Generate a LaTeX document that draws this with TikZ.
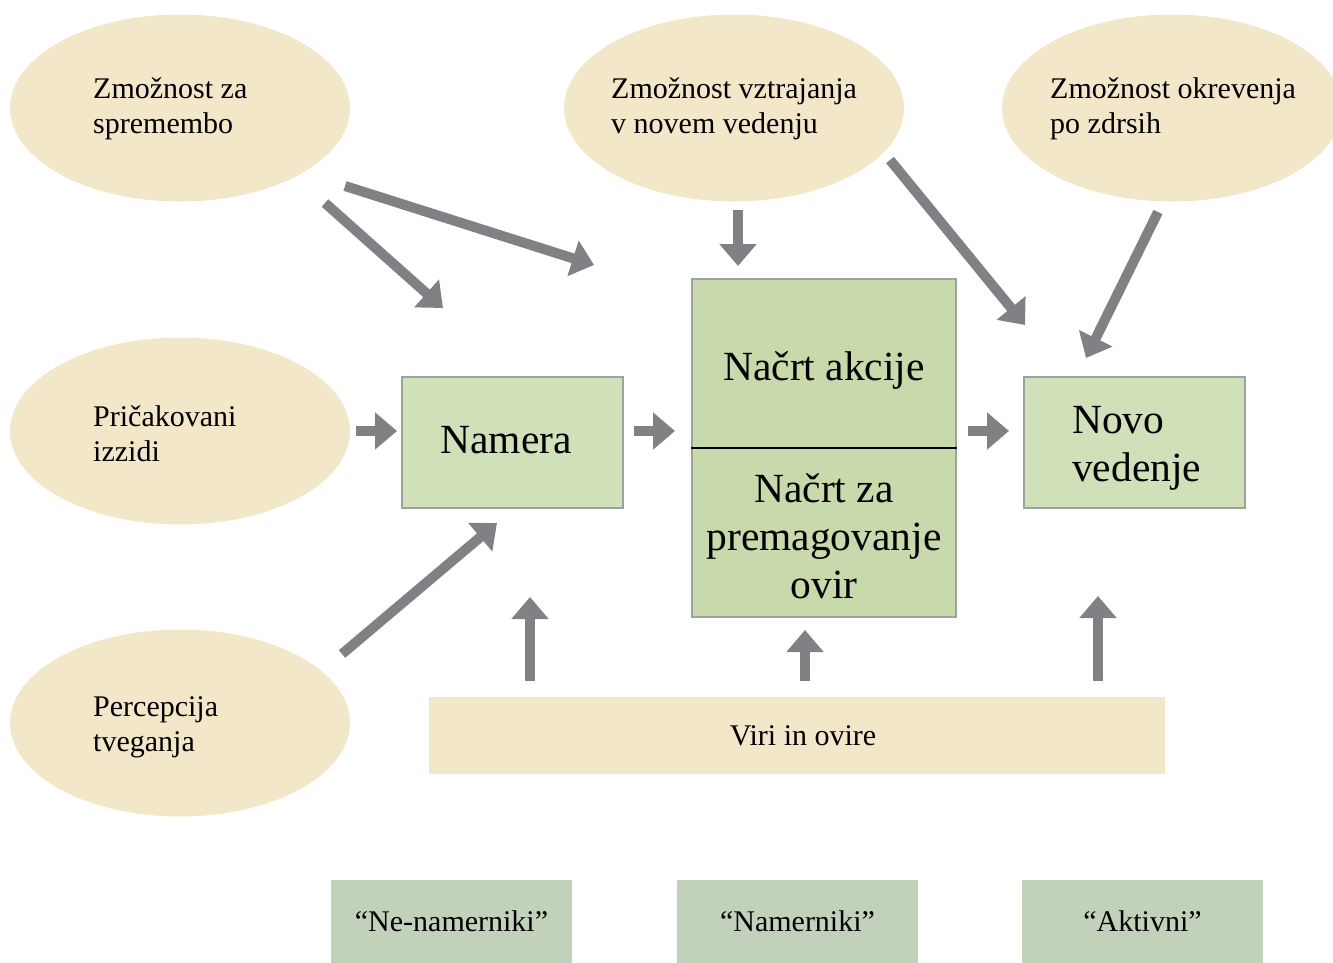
\documentclass[tikz,border=0pt]{standalone}
\usepackage{fontspec}
\setmainfont{Liberation Serif}
\usetikzlibrary{shapes.geometric,arrows.meta}
\definecolor{sand}{HTML}{F3E7C9}
\definecolor{leaf}{HTML}{D0E1B9}
\definecolor{leafdark}{HTML}{C8DAAB}
\definecolor{sage}{HTML}{C1D1BA}
\definecolor{edgegray}{HTML}{A0A0A0}
\definecolor{arrowgray}{HTML}{808184}
\begin{document}
\begin{tikzpicture}[x=1pt,y=-1pt,
  oval/.style={ellipse,fill=sand,draw=none,minimum width=340pt,minimum height=187pt,inner sep=0pt},
  ovaltext/.style={anchor=west,align=left,font=\fontsize{30}{35}\selectfont,inner sep=0pt},
  stage/.style={rectangle,draw=edgegray,line width=2.5pt,inner sep=0pt},
  bigtext/.style={align=center,font=\fontsize{41.5}{48}\selectfont,inner sep=0pt},
  group/.style={rectangle,fill=sage,draw=none,minimum width=241pt,minimum height=83pt,
    font=\fontsize{30}{35}\selectfont},
  flow/.style={draw=arrowgray,line width=10pt,-{Triangle[length=22pt,width=36pt]}}
]
\useasboundingbox (0,0) rectangle (1333,963);

% influencing factors
\node[oval] (spr) at (180,108) {};
\node[ovaltext] (sprt) at (93,109) {Zmožnost za\\spremembo};
\node[oval] (vzt) at (734,108) {};
\node[ovaltext] (vztt) at (611,109) {Zmožnost vztrajanja\\v novem vedenju};
\node[oval] (okr) at (1172,108) {};
\node[ovaltext] (okrt) at (1050,109) {Zmožnost okrevenja\\po zdrsih};
\node[oval] (izz) at (180,431) {};
\node[ovaltext] (izzt) at (93,434) {Pričakovani\\izzidi};
\node[oval] (tve) at (180,723) {};
\node[ovaltext] (tvet) at (93,727) {Percepcija\\tveganja};

% stages
\node[stage,fill=leaf,minimum width=221pt,minimum height=131pt] (nam) at (512.5,442.5) {};
\node[bigtext] (namt) at (506,440) {Namera};
\node[stage,fill=leafdark,minimum width=264pt,minimum height=338pt] (plan) at (824,448) {};
\draw[black,line width=2pt] (plan.west) -- (plan.east);
\node[bigtext] (plant1) at (824,370) {Načrt akcije};
\node[bigtext] (plant2) at (824,536) {Načrt za\\premagovanje\\ovir};
\node[stage,fill=leaf,minimum width=221pt,minimum height=131pt] (novo) at (1134.5,442.5) {};
\node[bigtext,align=left,anchor=west] (novot) at (1072,448) {Novo\\vedenje};

% resources bar
\node[rectangle,fill=sand,minimum width=736pt,minimum height=77pt,
  font=\fontsize{30}{35}\selectfont] (viri) at (797,735.5) {\hspace*{12pt}Viri in ovire};

% groups
\node[group] (g1) at (451.5,921.5) {“Ne-namerniki”};
\node[group] (g2) at (797.5,921.5) {“Namerniki”};
\node[group] (g3) at (1142.5,921.5) {“Aktivni”};

% arrow end points
\coordinate (a1s) at (325,203);  \coordinate (a1e) at (443,308);
\coordinate (a2s) at (345,186);  \coordinate (a2e) at (594,265);
\coordinate (a3s) at (738,210);  \coordinate (a3e) at (738,266);
\coordinate (a4s) at (890,160);  \coordinate (a4e) at (1025,325);
\coordinate (a5s) at (1158,212); \coordinate (a5e) at (1086,358);
\coordinate (a6s) at (356,431);  \coordinate (a6e) at (397,431);
\coordinate (a7s) at (634,431);  \coordinate (a7e) at (675,431);
\coordinate (a8s) at (968,431);  \coordinate (a8e) at (1009,431);
\coordinate (a9s) at (342,654);  \coordinate (a9e) at (497,523);
\coordinate (a10s) at (530,681); \coordinate (a10e) at (530,597);
\coordinate (a11s) at (805,681); \coordinate (a11e) at (805,630);
\coordinate (a12s) at (1098,681);\coordinate (a12e) at (1098,596);

\draw[flow] (a1s) -- (a1e);
\draw[flow] (a2s) -- (a2e);
\draw[flow] (a3s) -- (a3e);
\draw[flow] (a4s) -- (a4e);
\draw[flow] (a5s) -- (a5e);
\draw[flow] (a6s) -- (a6e);
\draw[flow] (a7s) -- (a7e);
\draw[flow] (a8s) -- (a8e);
\draw[flow] (a9s) -- (a9e);
\draw[flow] (a10s) -- (a10e);
\draw[flow] (a11s) -- (a11e);
\draw[flow] (a12s) -- (a12e);
\end{tikzpicture}
\end{document}
